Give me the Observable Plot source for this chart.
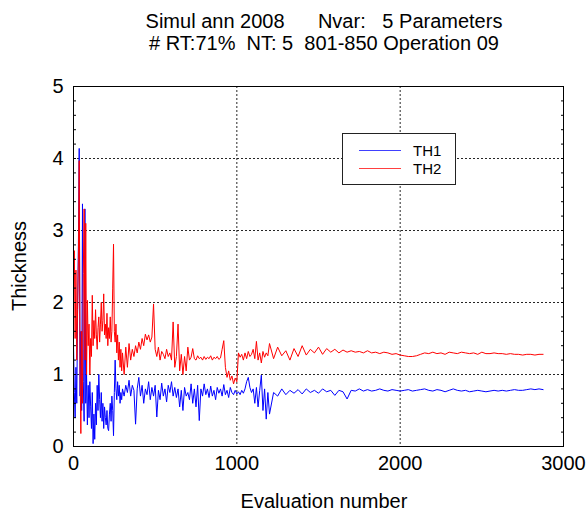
<!DOCTYPE html>
<html>
<head>
<meta charset="utf-8">
<script src="https://cdn.jsdelivr.net/npm/d3@7"></script>
<script src="https://cdn.jsdelivr.net/npm/@observablehq/plot@0.6"></script>
<style>
  html, body { margin: 0; padding: 0; background: #fff; overflow: hidden; }
  #wrap { position: relative; width: 587px; height: 516px; font-family: "Liberation Sans", Arial, sans-serif; color: #000; }
  #wrap svg { position: absolute; left: 0; top: 0; }
  .title { position: absolute; left: 24px; width: 600px; top: 10px; text-align: center; font-size: 20px; line-height: 22px; white-space: pre; }
  .ylabel { position: absolute; left: 19px; top: 266px; font-size: 20px; white-space: nowrap; transform: translate(-50%, -50%) rotate(-90deg); }
  .xlabel { position: absolute; left: 24px; width: 600px; top: 490px; text-align: center; font-size: 20px; line-height: 22px; }
  .legend { position: absolute; left: 342px; top: 133px; width: 112px; height: 50px; border: 1px solid #222; background: #fff; }
  .legend .item { position: absolute; left: 16px; height: 18px; font-size: 15px; line-height: 18px; }
  .legend .swatch { position: absolute; left: 0; top: 8px; width: 42px; height: 0; border-top: 1px solid; opacity: 0.75; }
  .legend .lab { position: absolute; left: 54px; top: 0; white-space: nowrap; }
</style>
</head>
<body>
<div id="wrap"></div>
<script>
// ---- Data ----
const titleLines = ["Simul ann 2008      Nvar:   5 Parameters", "# RT:71%  NT: 5  801-850 Operation 09"];
const xLabel = "Evaluation number";
const yLabel = "Thickness";
const seriesNames = ["TH1", "TH2"];
const seriesColors = ["#0000ff", "#ff0000"];

const xTicks = [0, 1000, 2000, 3000];
const yTicks = [0, 1, 2, 3, 4, 5];
const xGrid = [1000, 2000];
const yGrid = [1, 2, 3, 4];
const yMinorTicks = [0, 0.2, 0.4, 0.6, 0.8, 1, 1.2, 1.4, 1.6, 1.8, 2, 2.2, 2.4, 2.6, 2.8, 3, 3.2, 3.4, 3.6, 3.8, 4, 4.2, 4.4, 4.6, 4.8, 5];

// evaluation numbers at which the two thicknesses were read
const evaluation = [
  0,5,10,15,20,25,30,35,40,45,50,55,60,65,70,75,80,85,90,95,
  100,105,110,115,120,125,130,135,140,145,150,155,160,165,170,175,180,185,190,195,
  200,205,210,215,220,225,230,235,240,245,250,255,260,265,270,275,280,285,290,295,300,
  310,320,330,340,350,360,370,380,390,400,
  410,420,430,440,450,460,470,480,490,500,
  510,520,530,540,550,560,570,580,590,600,
  610,620,630,640,650,660,670,680,690,700,
  710,720,730,740,750,760,770,780,790,800,
  810,820,830,840,850,860,870,880,890,900,
  910,920,930,940,950,960,970,980,990,1000,
  1010,1020,1030,1040,1050,1060,1070,1080,1090,1100,
  1110,1120,1130,1140,1150,1160,1170,1180,1190,1200,
  1225,1250,1275,1300,1325,1350,1375,1400,1425,1450,1475,1500,
  1525,1550,1575,1600,1625,1650,1675,1700,1725,1750,1775,1800,
  1825,1850,1875,1900,1925,1950,1975,2000,2025,2050,2075,2100,
  2125,2150,2175,2200,2225,2250,2275,2300,2325,2350,2375,2400,
  2425,2450,2475,2500,2525,2550,2575,2600,2625,2650,2675,2700,
  2725,2750,2775,2800,2825,2850,2875
];

// TH1 (blue)
const th1 = [
  1.42,0.75,0.40,1.10,0.60,1.90,2.80,4.14,0.70,1.60,0.50,3.37,0.90,0.35,3.30,0.60,1.00,0.30,0.85,0.40,
  0.90,0.55,0.25,0.75,0.04,0.45,0.10,0.60,0.30,0.85,0.50,1.00,0.65,0.40,0.75,0.35,0.60,0.25,0.55,0.40,
  0.30,0.50,0.25,0.22,0.45,0.60,0.35,0.70,0.50,0.15,0.75,1.20,0.80,0.65,0.90,0.70,0.85,0.60,0.75,0.65,0.80,
  0.70,0.85,0.75,0.92,0.70,0.85,0.78,0.31,0.80,0.96,
  0.70,0.85,0.60,0.80,0.72,0.90,0.65,0.82,0.70,0.85,
  0.41,0.78,0.65,0.88,0.70,0.80,0.62,0.85,0.75,0.90,
  0.70,0.82,0.68,0.80,0.55,0.78,0.50,0.82,0.70,0.75,
  0.65,0.87,0.60,0.80,0.55,0.85,0.36,0.80,0.70,0.87,
  0.72,0.80,0.68,0.84,0.70,0.78,0.65,0.82,0.74,0.80,
  0.70,0.86,0.72,0.78,0.68,0.82,0.75,0.72,0.78,0.73,
  0.76,0.72,0.78,0.74,0.80,0.90,0.96,0.82,0.75,0.80,
  0.60,0.82,0.55,0.78,0.99,0.50,0.80,0.38,0.75,0.45,
  0.75,0.70,0.80,0.72,0.78,0.74,0.79,0.73,0.80,0.75,0.78,0.74,
  0.80,0.76,0.78,0.71,0.78,0.76,0.66,0.78,0.77,0.80,0.77,0.79,
  0.77,0.78,0.80,0.78,0.77,0.79,0.78,0.77,0.78,0.79,0.77,0.78,
  0.79,0.80,0.78,0.77,0.79,0.78,0.76,0.78,0.80,0.78,0.77,0.78,
  0.76,0.77,0.78,0.77,0.76,0.77,0.78,0.77,0.78,0.77,0.78,0.79,
  0.78,0.78,0.79,0.80,0.79,0.80,0.79
];

// TH2 (red)
const th2 = [
  2.20,2.72,1.50,2.45,1.20,1.90,2.60,3.97,1.10,0.18,1.60,0.60,2.40,3.30,1.20,3.10,1.00,2.03,1.40,1.70,
  1.00,1.50,1.25,2.10,1.40,1.75,1.50,1.90,1.55,1.35,1.65,1.80,1.45,1.70,2.00,1.60,1.75,2.12,1.55,1.70,
  1.50,1.85,1.40,1.65,1.50,1.80,1.45,1.60,2.20,2.81,1.60,1.45,1.70,1.30,1.55,1.20,1.45,1.10,1.35,1.05,1.30,
  1.00,1.38,1.10,1.43,1.20,1.35,1.25,1.40,1.30,1.45,
  1.35,1.50,1.40,1.56,1.48,1.55,1.45,1.52,1.98,1.35,
  1.25,1.38,1.20,1.32,1.28,1.22,1.35,1.25,1.30,1.20,
  1.73,1.10,1.25,1.70,1.05,1.28,1.00,1.25,1.05,1.38,
  1.20,1.24,1.36,1.22,1.20,1.26,1.22,1.24,1.20,1.25,
  1.21,1.24,1.22,1.26,1.20,1.24,1.22,1.25,1.21,1.23,
  1.35,1.47,1.10,0.96,1.05,0.92,0.98,0.87,0.95,0.90,
  1.30,1.24,1.28,1.20,1.30,1.22,1.32,1.25,1.28,1.35,
  1.22,1.46,1.20,1.30,1.16,1.32,1.24,1.30,1.26,1.43,
  1.22,1.38,1.26,1.33,1.20,1.36,1.25,1.40,1.27,1.35,1.30,1.38,
  1.28,1.36,1.31,1.35,1.30,1.34,1.31,1.33,1.31,1.32,1.30,1.33,
  1.30,1.31,1.29,1.31,1.30,1.28,1.29,1.27,1.26,1.25,1.25,1.26,
  1.28,1.30,1.29,1.31,1.29,1.30,1.28,1.31,1.30,1.29,1.31,1.30,
  1.29,1.30,1.28,1.31,1.29,1.29,1.30,1.29,1.29,1.28,1.29,1.28,
  1.28,1.27,1.28,1.28,1.27,1.28,1.28
];

// ---- Build the chart ----
const rows = evaluation.map((e, i) => ({evaluation: e, th1: th1[i], th2: th2[i]}));

const grid = {stroke: "#000", strokeWidth: 1, strokeDasharray: "2,2", strokeOpacity: 0.85};
const fmt = d3.format("d");

const chart = Plot.plot({
  width: 587,
  height: 516,
  marginLeft: 73,
  marginRight: 24,
  marginTop: 86,
  marginBottom: 70,
  style: {fontFamily: "'Liberation Sans', Arial, sans-serif", fontSize: "20px", color: "#000", background: "transparent"},
  x: {domain: [0, 3000]},
  y: {domain: [0, 5]},
  marks: [
    Plot.ruleX(xGrid, grid),
    Plot.ruleY(yGrid, grid),
    Plot.line(rows, {x: "evaluation", y: "th1", stroke: seriesColors[0], strokeWidth: 1}),
    Plot.line(rows, {x: "evaluation", y: "th2", stroke: seriesColors[1], strokeWidth: 1}),
    Plot.axisX(xTicks, {tickSize: 0, tickPadding: 9, tickFormat: fmt, label: null}),
    Plot.axisY(yTicks, {tickSize: 0, tickPadding: 10, tickFormat: fmt, label: null}),
    Plot.axisY(yMinorTicks, {anchor: "left", tickSize: 3, insetLeft: 3, tickFormat: () => "", label: null}),
    Plot.axisY(yMinorTicks, {anchor: "right", tickSize: 3, insetRight: 3, tickFormat: () => "", label: null}),
    Plot.frame({stroke: "#000", strokeWidth: 1})
  ]
});

const wrap = document.getElementById("wrap");
wrap.appendChild(chart);

const t = document.createElement("div");
t.className = "title";
t.textContent = titleLines.join("\n");
wrap.appendChild(t);

const yl = document.createElement("div");
yl.className = "ylabel";
yl.textContent = yLabel;
wrap.appendChild(yl);

const xl = document.createElement("div");
xl.className = "xlabel";
xl.textContent = xLabel;
wrap.appendChild(xl);

const lg = document.createElement("div");
lg.className = "legend";
seriesNames.forEach((name, i) => {
  const it = document.createElement("div");
  it.className = "item";
  it.style.top = (8 + i * 18) + "px";
  const sw = document.createElement("div");
  sw.className = "swatch";
  sw.style.borderTopColor = seriesColors[i];
  const lb = document.createElement("div");
  lb.className = "lab";
  lb.textContent = name;
  it.appendChild(sw);
  it.appendChild(lb);
  lg.appendChild(it);
});
wrap.appendChild(lg);
</script>
</body>
</html>
